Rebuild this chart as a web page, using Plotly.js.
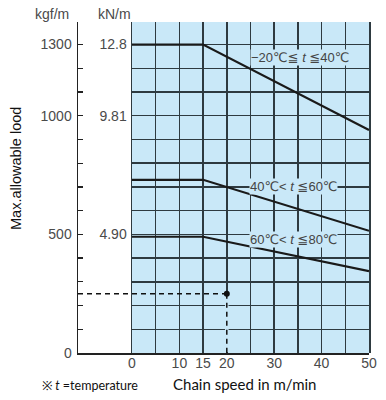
<!DOCTYPE html>
<html><head><meta charset="utf-8">
<script src="https://cdn.plot.ly/plotly-3.0.1.min.js"></script>
<style>html,body{margin:0;padding:0;background:#fff}#chart{width:386px;height:400px}</style>
</head><body><div id="chart"></div>
<script>
// ---- data ----
const speed = [0, 15, 50];
const load1 = [1300, 1300, 940];   // -20..40 C
const load2 = [730, 730, 515];     // 40..60 C
const load3 = [490, 490, 345];     // 60..80 C
const curveLabels = ['−20℃≦ <i>t</i> ≦40℃', '40℃< <i>t</i> ≦60℃', '60℃< <i>t</i> ≦80℃'];
const exampleSpeed = [20];
const exampleLoad = [250];
const speedTicks = [0, 5, 10, 15, 20, 25, 30, 35, 40, 45, 50];
const speedTickText = ['0', '', '10', '15', '20', '', '30', '', '40', '', '50'];
const kgfTicks = [0, 100, 200, 300, 400, 500, 600, 700, 800, 900, 1000, 1100, 1200, 1300];
const kgfTickText = ['0', '', '', '', '', '500', '', '', '', '', '1000', '', '', '1300'];
const knTickText = ['', '', '', '', '', '4.90', '', '', '', '', '9.81', '', '', '12.8'];

// ---- geometry ----
const W = 386, H = 400;
const axisPx = 78, blueLeftPx = 132, blueRightPx = 369;
const topPx = 22, botPx = 353;
const yMax = 1395;
const xMin2 = -(blueLeftPx - axisPx) / (blueRightPx - blueLeftPx) * 50;
const px = v => v / W;
const py = v => (botPx - v) / (botPx - topPx);

const gridC = '#2e3a40', blue = '#c9e8f8', tickC = '#4a4a4a';
const tickFont = {family: 'Liberation Sans, Arial, sans-serif', size: 14, color: tickC};

const traces = [
  {x: speed, y: load1, xaxis: 'x', yaxis: 'y', mode: 'lines', line: {color: '#1a1a1a', width: 2.2}, hoverinfo: 'skip'},
  {x: speed, y: load2, xaxis: 'x', yaxis: 'y', mode: 'lines', line: {color: '#1a1a1a', width: 2.2}, hoverinfo: 'skip'},
  {x: speed, y: load3, xaxis: 'x', yaxis: 'y', mode: 'lines', line: {color: '#1a1a1a', width: 2.2}, hoverinfo: 'skip'},
  // hide the x=20 grid line below the example point (the reference shows only the dashed guide there)
  {x: [exampleSpeed[0], exampleSpeed[0]], y: [4, exampleLoad[0]], xaxis: 'x', yaxis: 'y', mode: 'lines', line: {color: blue, width: 3.5}, hoverinfo: 'skip'},
  {x: [xMin2, exampleSpeed[0]], y: [exampleLoad[0], exampleLoad[0]], xaxis: 'x2', yaxis: 'y2', mode: 'lines', line: {color: '#111', width: 1.5, dash: '5px,4px'}, hoverinfo: 'skip'},
  {x: [exampleSpeed[0], exampleSpeed[0]], y: [exampleLoad[0], 0], xaxis: 'x2', yaxis: 'y2', mode: 'lines', line: {color: '#111', width: 1.5, dash: '5px,4px'}, hoverinfo: 'skip'},
  {x: exampleSpeed, y: exampleLoad, xaxis: 'x2', yaxis: 'y2', mode: 'markers', marker: {color: '#111', size: 6}, hoverinfo: 'skip'}
];

const lblFont = {family: 'Liberation Sans, Arial, DejaVu Sans, sans-serif', size: 13, color: '#444'};
const C = {xanchor: 'center', yanchor: 'middle', showarrow: false};
const annotations = [
  Object.assign({x: 35.4, y: 1247, xref: 'x', yref: 'y', text: curveLabels[0], font: lblFont, bgcolor: blue, borderpad: 0}, C),
  Object.assign({x: 34.0, y: 702, xref: 'x', yref: 'y', text: curveLabels[1], font: lblFont, bgcolor: blue, borderpad: 0}, C),
  Object.assign({x: 34.0, y: 478, xref: 'x', yref: 'y', text: curveLabels[2], font: lblFont, bgcolor: blue, borderpad: 0}, C),
  Object.assign({x: px(52), y: py(14), xref: 'paper', yref: 'paper', text: 'kgf/m', font: tickFont}, C),
  Object.assign({x: px(114), y: py(14), xref: 'paper', yref: 'paper', text: 'kN/m', font: tickFont}, C),
  Object.assign({x: px(16), y: py(169), xref: 'paper', yref: 'paper', text: 'Max.allowable lood', textangle: -90,
   font: {family: 'Liberation Sans, Arial, sans-serif', size: 14.5, color: '#111'}}, C),
  Object.assign({x: px(244), y: py(384), xref: 'paper', yref: 'paper', text: 'Chain speed in m/min',
   font: {family: 'Lato, Open Sans, sans-serif', size: 15, color: '#111'}}, C),
  Object.assign({x: px(90), y: py(385), xref: 'paper', yref: 'paper', text: '※ <i>t</i> =temperature',
   font: {family: 'Lato, Open Sans, sans-serif', size: 12.5, color: '#111'}}, C)
];

const shapes = [
  {type: 'rect', xref: 'x', yref: 'y', x0: 0, x1: 50, y0: 0, y1: yMax, fillcolor: blue, line: {width: 0}, layer: 'below'}
];

const layout = {
  width: W, height: H,
  margin: {l: 0, r: 0, t: topPx, b: H - botPx, pad: 0},
  paper_bgcolor: '#fff', plot_bgcolor: 'rgba(0,0,0,0)',
  showlegend: false,
  xaxis: {domain: [px(blueLeftPx), px(blueRightPx)], range: [0, 50], anchor: 'y',
          tickmode: 'array', tickvals: speedTicks, ticktext: speedTickText, ticks: '',
          showgrid: true, gridcolor: gridC, gridwidth: 1.5, zeroline: false,
          showline: false, tickfont: tickFont, fixedrange: true},
  yaxis: {domain: [0, 1], range: [0, yMax], anchor: 'x',
          tickmode: 'array', tickvals: kgfTicks, ticktext: knTickText, ticks: '',
          showgrid: true, gridcolor: gridC, gridwidth: 1.5, zeroline: false,
          showline: true, mirror: true, linecolor: gridC, linewidth: 1.5,
          tickfont: tickFont, ticklabelstandoff: 1, fixedrange: true},
  xaxis2: {domain: [px(axisPx), px(blueRightPx)], range: [xMin2, 50], anchor: 'y2',
           showgrid: false, zeroline: false, showticklabels: false, ticks: '',
           showline: true, linecolor: '#222', linewidth: 1.5, fixedrange: true},
  yaxis2: {domain: [0, 1], range: [0, yMax], anchor: 'x2', side: 'left',
           tickmode: 'array', tickvals: kgfTicks, ticktext: kgfTickText,
           ticks: 'inside', ticklen: 5, tickwidth: 1.3, tickcolor: '#222',
           showgrid: false, zeroline: false,
           showline: true, linecolor: '#222', linewidth: 1.5,
           tickfont: tickFont, ticklabelstandoff: 2, fixedrange: true},
  shapes: shapes,
  annotations: annotations
};

Plotly.newPlot('chart', traces, layout, {staticPlot: true, displayModeBar: false});
</script>
</body></html>
